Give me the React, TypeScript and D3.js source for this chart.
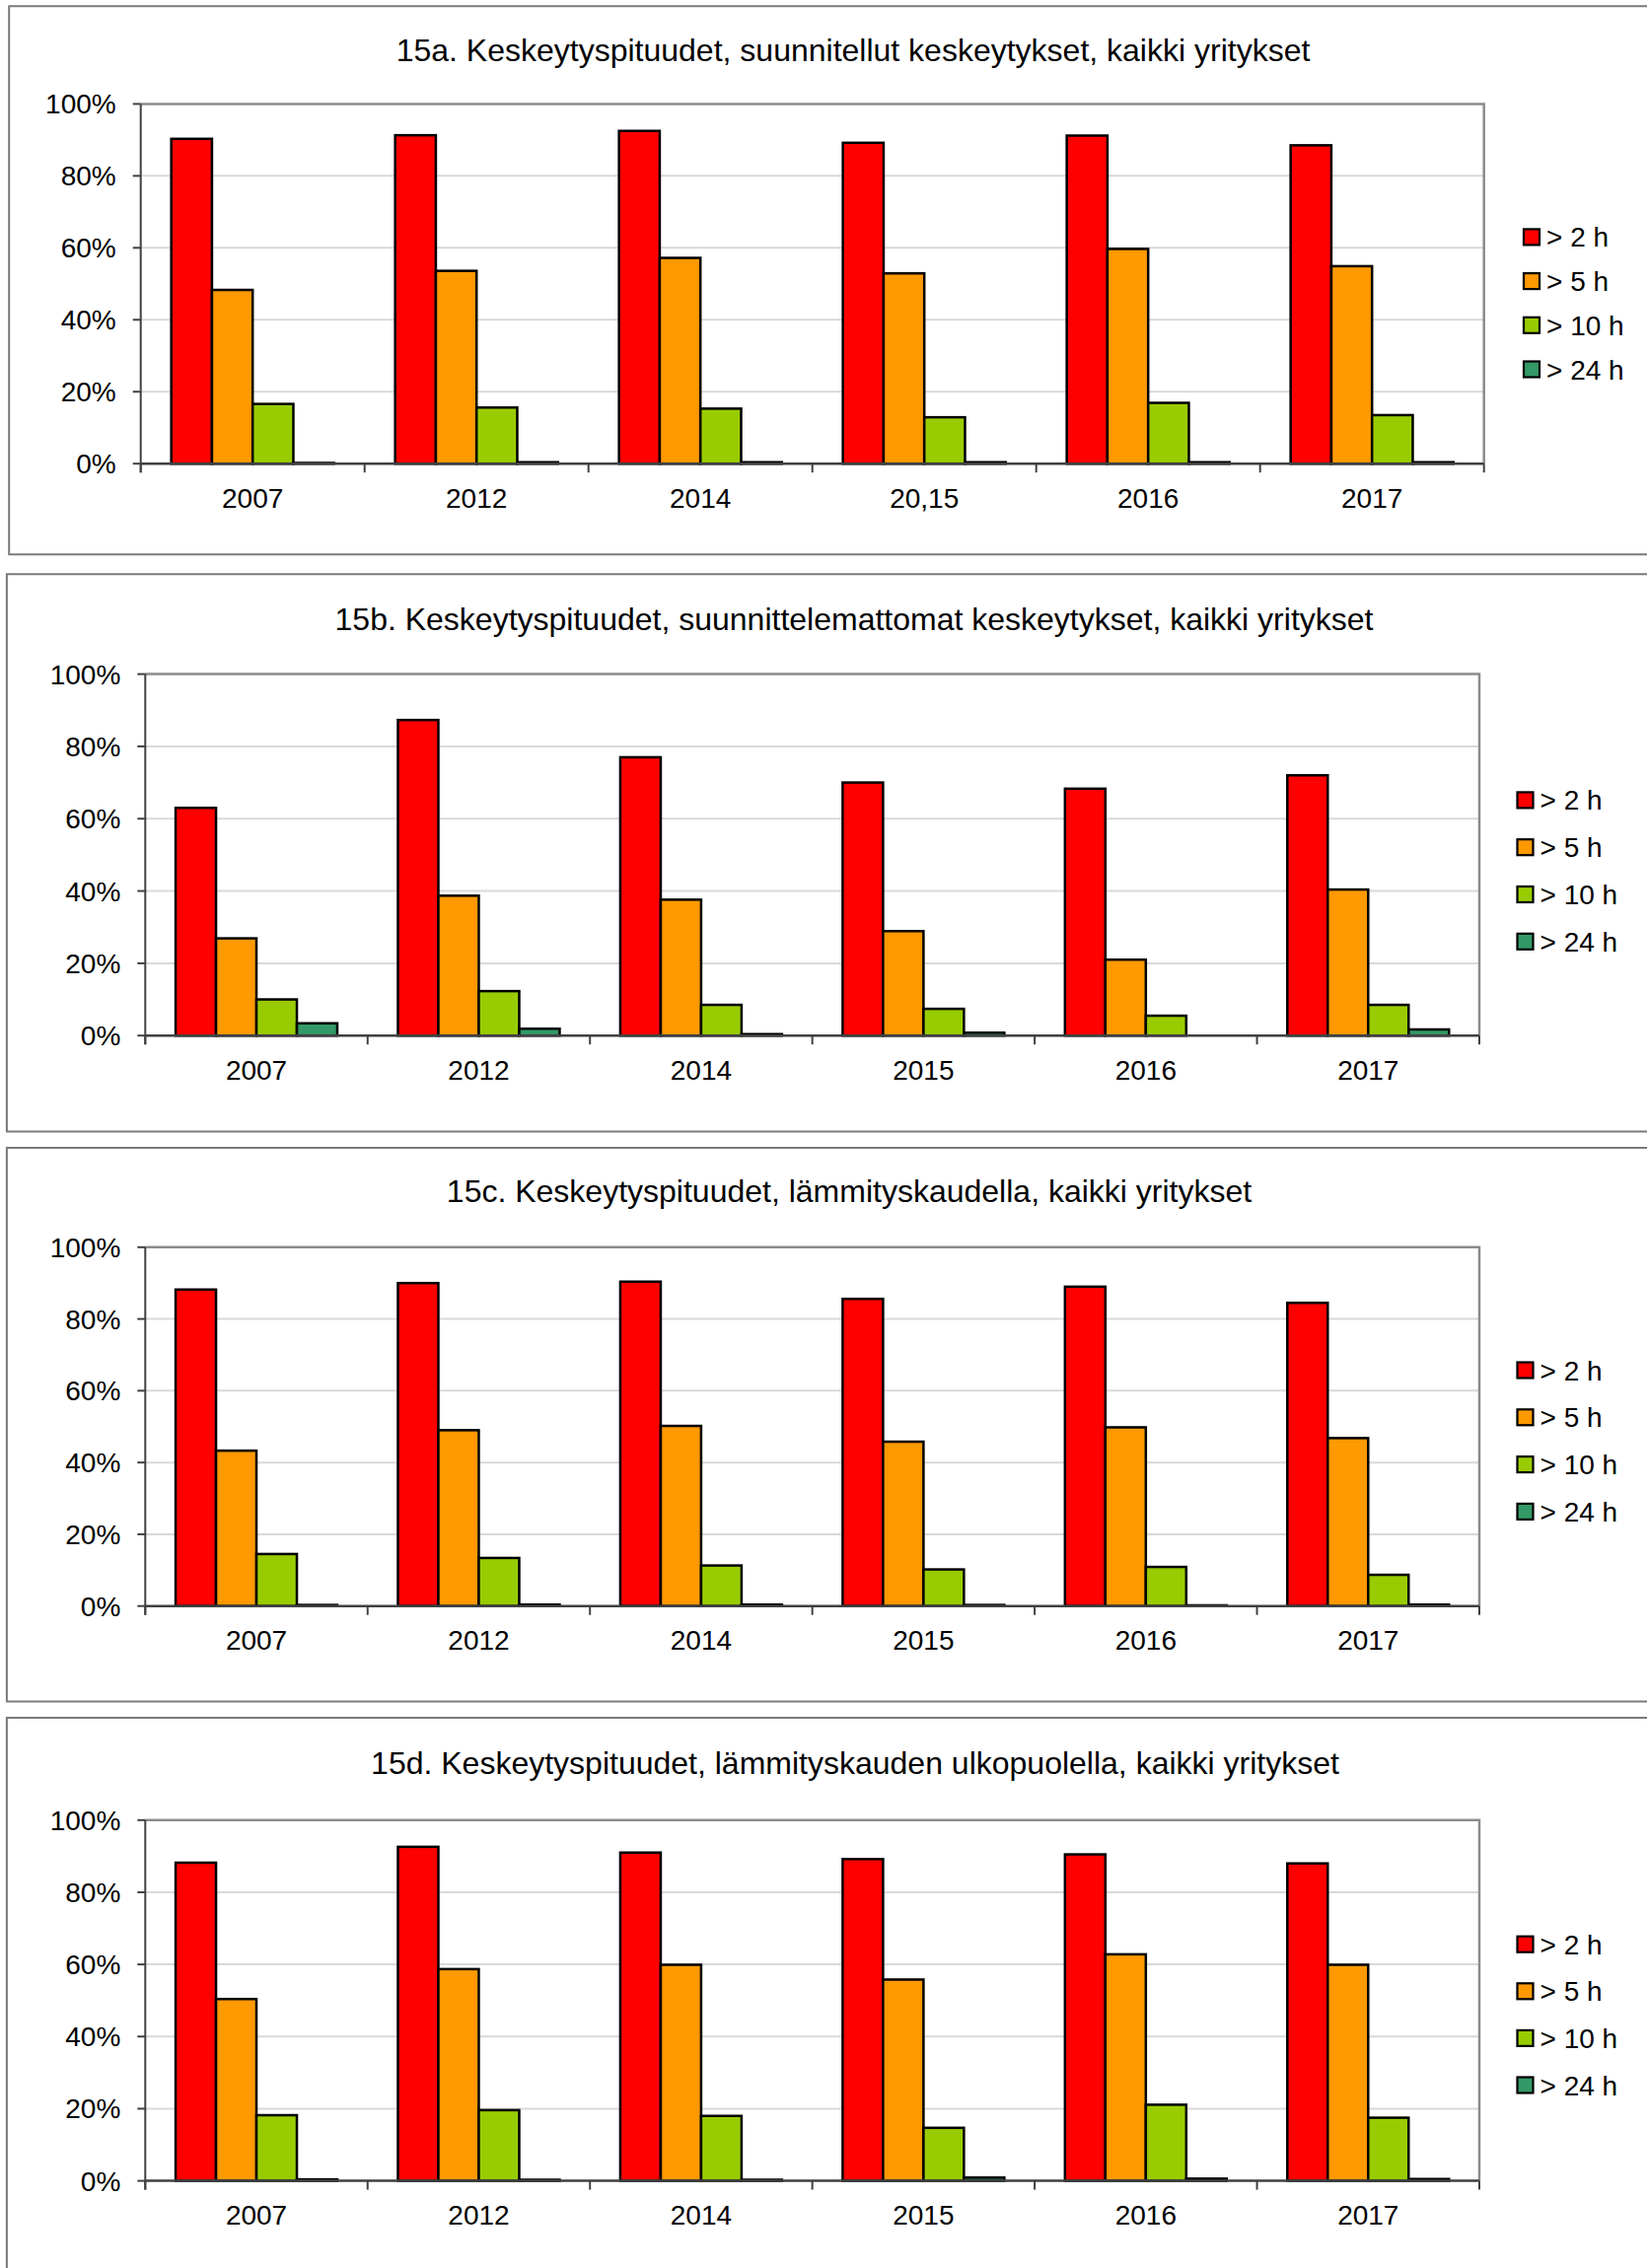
import React from 'react';
import * as d3 from 'd3';

// ---------- data ----------
const SERIES = ['> 2 h', '> 5 h', '> 10 h', '> 24 h'];
const COLORS = ['#FF0000', '#FF9900', '#99CC00', '#339966'];
const Y_TICKS = [0, 20, 40, 60, 80, 100];

const TITLE_A = '15a. Keskeytyspituudet, suunnitellut keskeytykset, kaikki yritykset';
const YEARS_A = ['2007', '2012', '2014', '20,15', '2016', '2017'];
const A_2H = [90.3, 91.3, 92.5, 89.2, 91.2, 88.5];
const A_5H = [48.3, 53.6, 57.2, 52.9, 59.7, 54.9];
const A_10H = [16.6, 15.6, 15.3, 12.9, 16.9, 13.5];
const A_24H = [0.2, 0.4, 0.4, 0.4, 0.4, 0.4];

const TITLE_B = '15b. Keskeytyspituudet, suunnittelemattomat keskeytykset, kaikki yritykset';
const YEARS_B = ['2007', '2012', '2014', '2015', '2016', '2017'];
const B_2H = [63.0, 87.3, 77.0, 70.0, 68.3, 72.0];
const B_5H = [26.9, 38.7, 37.6, 28.9, 21.0, 40.4];
const B_10H = [10.0, 12.3, 8.5, 7.4, 5.5, 8.5];
const B_24H = [3.4, 1.9, 0.4, 0.8, 0, 1.7];

const TITLE_C = '15c. Keskeytyspituudet, lämmityskaudella, kaikki yritykset';
const YEARS_C = ['2007', '2012', '2014', '2015', '2016', '2017'];
const C_2H = [88.2, 90.0, 90.4, 85.6, 89.0, 84.5];
const C_5H = [43.3, 49.0, 50.2, 45.8, 49.8, 46.8];
const C_10H = [14.5, 13.4, 11.3, 10.2, 10.9, 8.7];
const C_24H = [0.3, 0.4, 0.4, 0.3, 0.2, 0.4];

const TITLE_D = '15d. Keskeytyspituudet, lämmityskauden ulkopuolella, kaikki yritykset';
const YEARS_D = ['2007', '2012', '2014', '2015', '2016', '2017'];
const D_2H = [88.2, 92.6, 91.0, 89.2, 90.5, 88.0];
const D_5H = [50.4, 58.7, 59.9, 55.8, 62.8, 59.9];
const D_10H = [18.2, 19.6, 18.0, 14.7, 21.1, 17.5];
const D_24H = [0.4, 0.3, 0.3, 0.9, 0.6, 0.5];

const PANELS = [
  { title: TITLE_A, years: YEARS_A, values: [A_2H, A_5H, A_10H, A_24H] },
  { title: TITLE_B, years: YEARS_B, values: [B_2H, B_5H, B_10H, B_24H] },
  { title: TITLE_C, years: YEARS_C, values: [C_2H, C_5H, C_10H, C_24H] },
  { title: TITLE_D, years: YEARS_D, values: [D_2H, D_5H, D_10H, D_24H] },
];

// ---------- layout ----------
const LAYOUT = [
  { boxTop: 6.3, boxBottom: 562.3, boxLeft: 9.2, left: 142.7, right: 1504.7, top: 105.4, bottom: 470.2, titleX: 865, titleY: 62, legX: 1545, legY0: 240.4, legStep: 44.7 },
  { boxTop: 582.2, boxBottom: 1147.4, boxLeft: 6.9, left: 147.3, right: 1500, top: 683.6, bottom: 1050.2, titleX: 866, titleY: 638.5, legX: 1538.5, legY0: 811.4, legStep: 47.8 },
  { boxTop: 1164.1, boxBottom: 1725.5, boxLeft: 6.9, left: 147.3, right: 1500, top: 1264.8, bottom: 1628.7, titleX: 861, titleY: 1218.5, legX: 1538.5, legY0: 1389.5, legStep: 47.8 },
  { boxTop: 1742.1, boxBottom: 2330, boxLeft: 6.9, left: 147.3, right: 1500, top: 1845.8, bottom: 2211.6, titleX: 867, titleY: 1799, legX: 1538.5, legY0: 1971.7, legStep: 47.6 },
];

const FONT = '"Liberation Sans", Arial, Helvetica, sans-serif';

function Panel({ panel, lay }: { panel: any; lay: any }) {
  const x = d3.scaleBand<string>().domain(panel.years).range([lay.left, lay.right]).paddingInner(0).paddingOuter(0);
  const B = x.bandwidth();
  const w = B / 5.5;
  const xs = d3.scaleBand<string>().domain(SERIES).range([0.75 * w, B - 0.75 * w]).padding(0);
  const y = d3.scaleLinear().domain([0, 100]).range([lay.bottom, lay.top]);
  const fmt = (v: number) => `${v}%`;
  const boundaries = panel.years.map((c: string) => x(c) as number).concat([lay.right]);

  return (
    <g>
      {/* chart border */}
      <path d={`M1700,${lay.boxTop}H${lay.boxLeft}V${lay.boxBottom}H1700`} fill="none" stroke="#7a7a7a" strokeWidth={2} />
      <text x={lay.titleX} y={lay.titleY} textAnchor="middle" fontSize={32} fontFamily={FONT} fill="#000">
        {panel.title}
      </text>
      {/* gridlines */}
      {Y_TICKS.filter((t) => t > 0 && t < 100).map((t) => (
        <line key={t} x1={lay.left} x2={lay.right} y1={y(t)} y2={y(t)} stroke="#d9d9d9" strokeWidth={2} />
      ))}
      {/* plot border top/right */}
      <path d={`M${lay.left},${y(100)}H${lay.right}V${y(0)}`} fill="none" stroke="#8c8c8c" strokeWidth={2.5} />
      {/* bars */}
      {panel.values.map((vals: number[], si: number) =>
        vals.map((v: number, ci: number) => {
          const cat = panel.years[ci];
          const bx = (x(cat) as number) + (xs(SERIES[si]) as number);
          return (
            <rect
              key={`${si}-${ci}`}
              x={bx}
              y={y(v)}
              width={xs.bandwidth()}
              height={y(0) - y(v)}
              fill={COLORS[si]}
              stroke="#000"
              strokeWidth={2.5}
            />
          );
        })
      )}
      {/* axes */}
      <line x1={lay.left} x2={lay.left} y1={y(100)} y2={y(0) + 9} stroke="#404040" strokeWidth={2} />
      <line x1={lay.left} x2={lay.right} y1={y(0)} y2={y(0)} stroke="#404040" strokeWidth={2.5} />
      {Y_TICKS.map((t) => (
        <g key={t}>
          <line x1={lay.left - 8} x2={lay.left} y1={y(t)} y2={y(t)} stroke="#404040" strokeWidth={2} />
          <text x={lay.left - 25} y={y(t) + 10} textAnchor="end" fontSize={28} fontFamily={FONT} fill="#000">
            {fmt(t)}
          </text>
        </g>
      ))}
      {boundaries.map((bx: number, i: number) => (
        <line key={i} x1={bx} x2={bx} y1={y(0)} y2={y(0) + 9} stroke="#404040" strokeWidth={2} />
      ))}
      {panel.years.map((c: string) => (
        <text key={c} x={(x(c) as number) + B / 2} y={y(0) + 44.5} textAnchor="middle" fontSize={28} fontFamily={FONT} fill="#000">
          {c}
        </text>
      ))}
      {/* legend */}
      {SERIES.map((s, i) => {
        const cy = lay.legY0 + i * lay.legStep;
        return (
          <g key={s}>
            <rect x={lay.legX} y={cy - 8} width={16} height={16} fill={COLORS[i]} stroke="#000" strokeWidth={2.2} />
            <text x={lay.legX + 23} y={cy + 10} fontSize={28} fontFamily={FONT} fill="#000">
              {s}
            </text>
          </g>
        );
      })}
    </g>
  );
}

export default function App() {
  return (
    <svg
      width={1670}
      height={2300}
      viewBox="0 0 1670 2300"
      style={{ position: 'absolute', left: 0, top: 0, background: '#fff' }}
    >
      <rect x={0} y={0} width={1670} height={2300} fill="#fff" />
      {PANELS.map((p, i) => (
        <Panel key={i} panel={p} lay={LAYOUT[i]} />
      ))}
    </svg>
  );
}
